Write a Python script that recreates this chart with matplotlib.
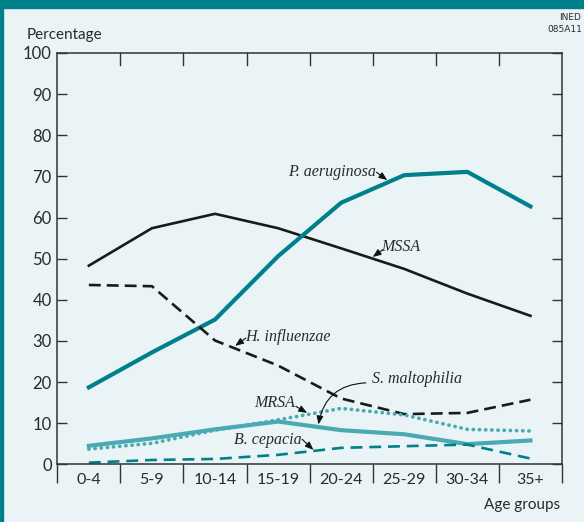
import matplotlib
matplotlib.use("Agg")
import matplotlib.pyplot as plt
from matplotlib.patches import Rectangle

# data (percentages by age group)
age_groups = ["0-4", "5-9", "10-14", "15-19", "20-24", "25-29", "30-34", "35+"]
mssa = [48.3, 57.4, 60.9, 57.4, 52.5, 47.5, 41.5, 36.1]
p_aeruginosa = [18.7, 27.2, 35.2, 50.6, 63.6, 70.3, 71.1, 62.7]
h_influenzae = [43.6, 43.3, 30.1, 24.0, 16.0, 12.2, 12.5, 15.7]
mrsa = [3.7, 5.1, 8.3, 10.8, 13.6, 12.0, 8.5, 8.1]
s_maltophilia = [4.5, 6.3, 8.5, 10.4, 8.3, 7.3, 4.9, 5.8]
b_cepacia = [0.4, 1.05, 1.3, 2.3, 4.0, 4.4, 4.8, 1.4]

BG = "#eaf4f7"
TEAL = "#00808a"
LIGHT_TEAL = "#4aaab2"
INK = "#2a2a2a"
SPINE = "#333333"

fig = plt.figure(figsize=(5.84, 5.22), dpi=100, facecolor=BG)
ax = fig.add_axes([57.3 / 584, 57.7 / 522, 504.7 / 584, 411.3 / 522])
ax.set_facecolor(BG)

# frame decoration: thick teal band on top, thin strip on the left
fig.patches.append(Rectangle((0, 1 - 8 / 522), 1, 8 / 522, transform=fig.transFigure,
                             color=TEAL, zorder=0))
fig.patches.append(Rectangle((0, 0), 3 / 584, 1, transform=fig.transFigure,
                             color=TEAL, zorder=0))

x = [i + 0.5 for i in range(len(age_groups))]

ax.plot(x, mssa, color="#1a1a1a", lw=1.9, solid_joinstyle="miter")
ax.plot(x, p_aeruginosa, color=TEAL, lw=3.0, solid_joinstyle="miter")
ax.plot(x, h_influenzae, color="#1a1a1a", lw=1.9, dashes=(4.5, 2.3))
ax.plot(x, s_maltophilia, color=LIGHT_TEAL, lw=3.0, solid_joinstyle="miter")
ax.plot(x, mrsa, color=LIGHT_TEAL, lw=2.7, linestyle=(0, (0.05, 1.6)),
        dash_capstyle="round")
ax.plot(x, b_cepacia, color=TEAL, lw=1.9, dashes=(4.5, 2.6))

ax.set_xlim(0, 8)
ax.set_ylim(0, 100)

# category boundaries as major ticks, labels on minor ticks at the centres
ax.set_xticks(range(9))
ax.set_xticklabels([])
ax.set_xticks(x, minor=True)
ax.set_xticklabels(age_groups, minor=True, fontsize=11.5, color=INK, family="Lato")
ax.tick_params(axis="x", which="minor", length=0, pad=6)
ax.tick_params(axis="x", which="major", direction="out", length=13.5, width=1,
               color=SPINE, top=False)
ax.set_yticks(range(0, 101, 10))
ax.set_yticklabels([str(v) for v in range(0, 101, 10)], fontsize=12, color=INK,
                   family="Lato")
ax.tick_params(axis="y", direction="in", length=7.5, width=1, color=SPINE,
               right=True, pad=4)
for s in ax.spines.values():
    s.set_color(SPINE)
    s.set_linewidth(1.1)

# top ticks pointing down at inner boundaries
for b in range(1, 8):
    ax.plot([b, b], [100, 100 - 3.0], color=SPINE, lw=1.0, clip_on=False)

fig.text(27 / 584, 1 - 35 / 522, "Percentage", fontsize=11, color=INK, family="Lato",
         va="center", ha="left")
fig.text(560 / 584, 1 - 505 / 522, "Age groups", fontsize=11, color=INK, family="Lato",
         va="center", ha="right")
fig.text(581 / 584, 1 - 18 / 522, "INED", fontsize=6.5, color=INK, ha="right",
         va="center", family=["Liberation Sans Narrow", "DejaVu Sans"])
fig.text(582 / 584, 1 - 29 / 522, "085A11", fontsize=6.5, color=INK, ha="right",
         va="center", family=["Liberation Sans Narrow", "DejaVu Sans"])

lab = dict(fontsize=11.5, style="italic", family="Liberation Serif", color=INK,
           ha="center", va="center")
arr = dict(arrowstyle="-|>,head_length=0.5,head_width=0.2", color="#111111", lw=0.8,
           shrinkA=0, shrinkB=0)

labels = [
    ("P. aeruginosa", (4.35, 71.1), (5.06, 71.0), (5.23, 69.1), "arc3"),
    ("MSSA", (5.45, 52.8), (5.16, 52.2), (5.00, 50.4), "arc3"),
    ("H. influenzae", (3.66, 30.9), (2.99, 30.7), (2.82, 28.8), "arc3"),
    ("S. maltophilia", (5.70, 20.7), (4.89, 19.8), (4.14, 9.7), "arc3,rad=0.4"),
    ("MRSA", (3.44, 14.9), (3.78, 14.1), (3.96, 12.5), "arc3"),
    ("B. cepacia", (3.34, 5.9), (3.88, 6.1), (4.06, 3.5), "arc3"),
]
for text, pos, tail, tip, conn in labels:
    ax.text(pos[0], pos[1], text, **lab)
    ax.annotate("", xy=tip, xytext=tail,
                arrowprops=dict(arr, connectionstyle=conn))

fig.savefig("out.png", dpi=100, facecolor=BG)
